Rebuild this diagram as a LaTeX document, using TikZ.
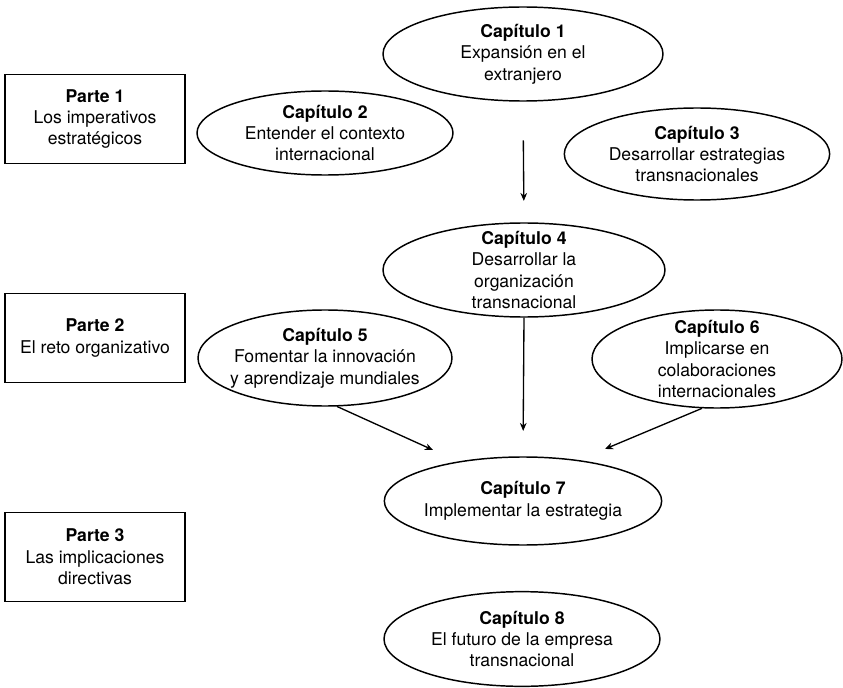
\documentclass[tikz,border=0pt]{standalone}
\usepackage{fontspec}
\setmainfont{TeX Gyre Heros}
\usetikzlibrary{shapes.geometric,arrows.meta}

\begin{document}
\begin{tikzpicture}[x=0.75pt, y=-0.75pt,
        ctext/.style={align=center, inner sep=0pt, font=\fontsize{13.2}{16.1}\selectfont},
        chapter/.style={draw, ellipse, line width=1.1pt, inner sep=0pt},
        part/.style={draw, rectangle, line width=1.1pt, minimum width=135pt, minimum height=66.5pt, ctext},
        flow/.style={-{Stealth[length=6pt,width=5pt]}, line width=1pt}]
            \useasboundingbox (0,0) rectangle (843,688);

            \node[part] (p1) at (95,119) {\textbf{Parte 1}\\Los imperativos\\estratégicos};
            \node[part] (p2) at (95,338) {\textbf{Parte 2}\\El reto organizativo};
            \node[part] (p3) at (95,557) {\textbf{Parte 3}\\Las implicaciones\\directivas};

            \node[chapter, minimum width=210pt, minimum height=70.5pt,
                label={[ctext]center:{\textbf{Capítulo 1}\\Expansión en el\\extranjero}}] (c1) at (523,54) {};
            \node[chapter, minimum width=192pt, minimum height=63pt,
                label={[ctext]center:{\textbf{Capítulo 2}\\Entender el contexto\\internacional}}] (c2) at (325,133) {};
            \node[chapter, minimum width=199pt, minimum height=69pt,
                label={[ctext]center:{\textbf{Capítulo 3}\\Desarrollar estrategias\\transnacionales}}] (c3) at (697,154) {};
            \node[chapter, minimum width=211.5pt, minimum height=70.5pt,
                label={[ctext]center:{\textbf{Capítulo 4}\\Desarrollar la\\organización\\transnacional}}] (c4) at (524,270) {};
            \node[chapter, minimum width=190.5pt, minimum height=72pt,
                label={[ctext]center:{\textbf{Capítulo 5}\\Fomentar la innovación\\y aprendizaje mundiales}}] (c5) at (325,358) {};
            \node[chapter, minimum width=187.5pt, minimum height=73.5pt,
                label={[ctext]center:{\textbf{Capítulo 6}\\Implicarse en\\colaboraciones\\internacionales}}] (c6) at (717,359) {};
            \node[chapter, minimum width=208pt, minimum height=66pt,
                label={[ctext]center:{\textbf{Capítulo 7}\\Implementar la estrategia}}] (c7) at (523,501) {};
            \node[chapter, minimum width=207pt, minimum height=71pt,
                label={[ctext]center:{\textbf{Capítulo 8}\\El futuro de la empresa\\transnacional}}] (c8) at (522,639) {};

            \coordinate (e5) at (433,450);
            \coordinate (e6) at (605,449);

            \draw[flow, shorten <=29pt, shorten >=16pt] (c1.south) -- (c4.north);
            \draw[flow, shorten >=19pt] (c4.south) -- (c7.north);
            \draw[flow] (c5.-76) -- (e5);
            \draw[flow] (c6.-107) -- (e6);
        \end{tikzpicture}
\end{document}
